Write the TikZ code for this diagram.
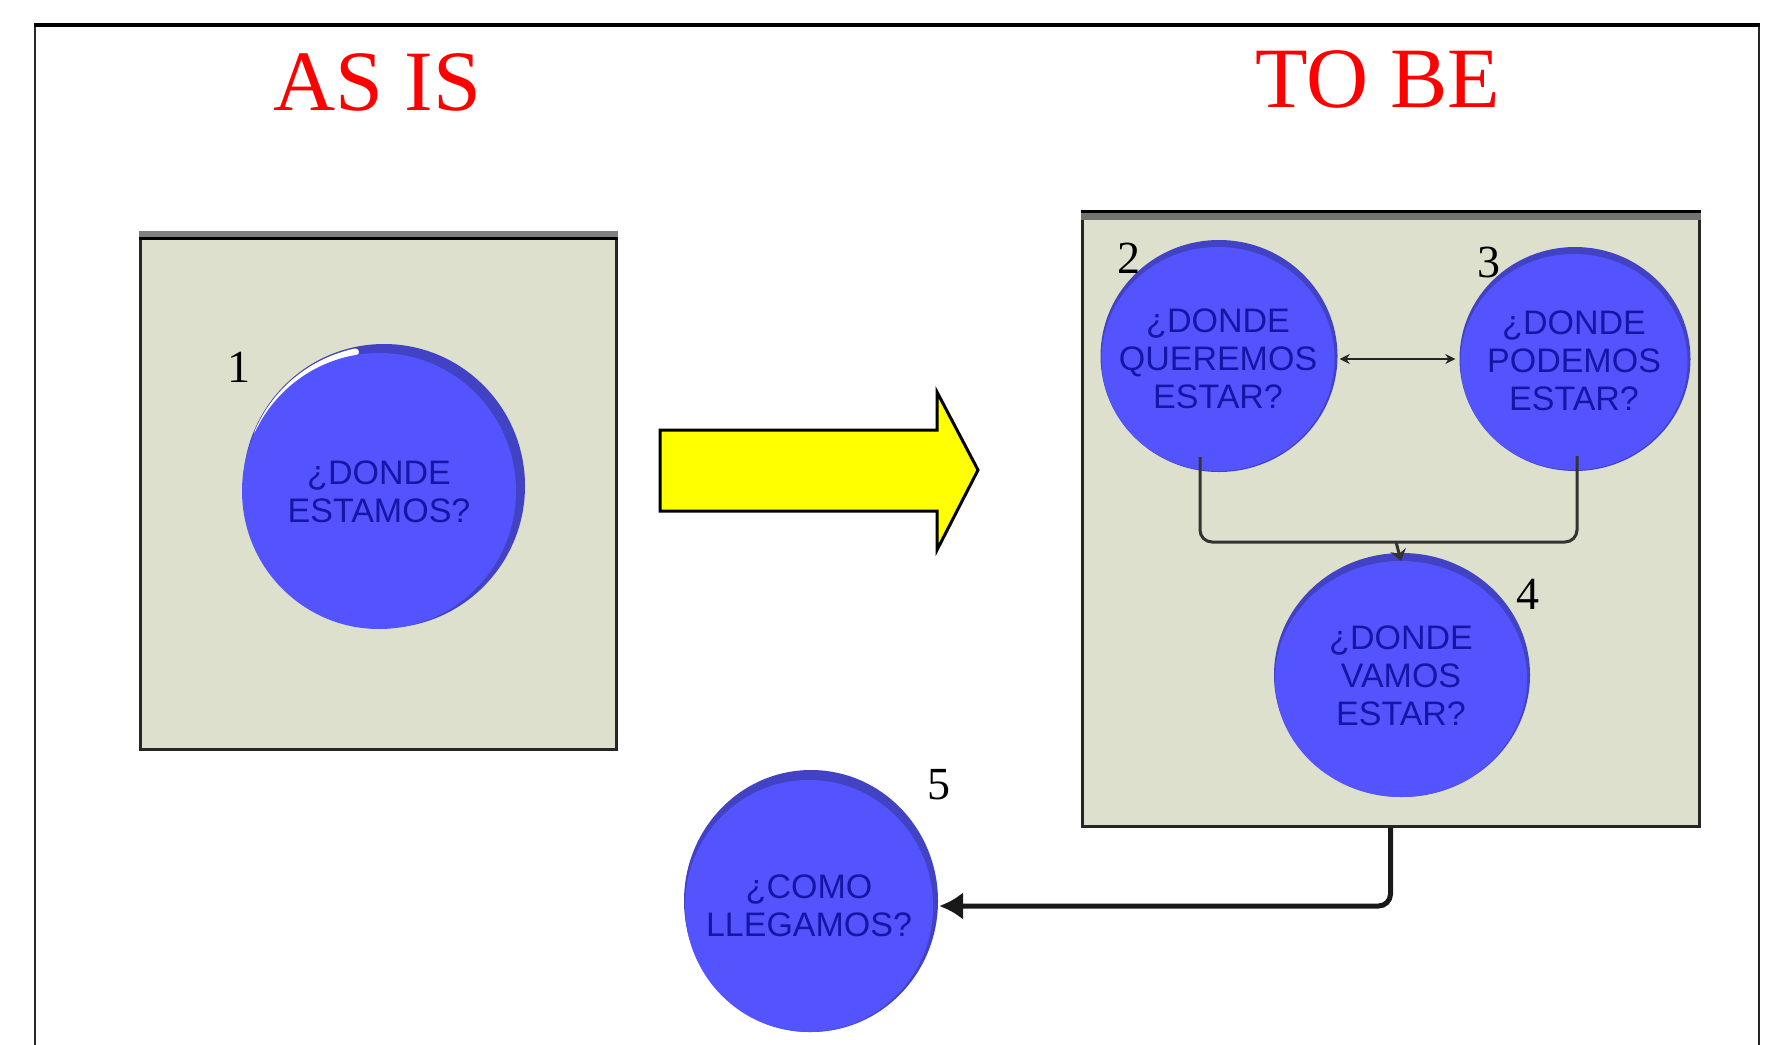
\documentclass[tikz,border=0pt]{standalone}
\usepackage{fontspec}
\setmainfont{Liberation Serif}
\newfontfamily\bubfont{Liberation Sans}
\usetikzlibrary{arrows.meta,calc,shapes.geometric}
\definecolor{panelfill}{RGB}{221,224,204}
\definecolor{bubfill}{RGB}{84,84,255}
\definecolor{bubrim}{RGB}{66,66,196}
\definecolor{bubtext}{RGB}{22,22,165}
\definecolor{titlered}{RGB}{255,0,0}
\definecolor{arrowyellow}{RGB}{255,255,0}
\begin{document}
\begin{tikzpicture}[x=1pt,y=-1pt,
  panel/.style={draw=black!85, line width=3pt, fill=panelfill, inner sep=0pt},
  bub/.style={ellipse, fill=bubfill, inner sep=0pt},
  bubtxt/.style={font=\bubfont\fontsize{34}{38}\selectfont, text=bubtext, align=center, inner sep=0pt},
  rim/.style={ellipse, fill=bubrim, inner sep=0pt},
  num/.style={font=\fontsize{46}{46}\selectfont, text=black, inner sep=0pt},
  title/.style={font=\fontsize{86}{86}\selectfont, text=titlered, inner sep=0pt},
  conn/.style={draw=black!80, line width=3pt, rounded corners=12pt},
]
\useasboundingbox (0,0) rectangle (1771,1044);
\fill[white] (0,0) rectangle (1771,1044);
% outer frame
\draw[line width=2pt, black!85] (35,1060) -- (35,25);
\draw[line width=2pt, black!85] (1759,25) -- (1759,1060);
\draw[line width=3.5pt] (34,25) -- (1760,25);
% titles
\node[title] (asis) at (377,82) {AS IS};
\node[title] (tobe) at (1378,79) {TO BE};
% panels
\node[panel, minimum width=476pt, minimum height=515pt] (box1) at (378,491.5) {};
\fill[black!50] ($(box1.north west)+(0,-1.5)$) rectangle ($(box1.north east)+(0,5)$);
\draw[line width=3pt] ($(box1.north west)+(0,6)$) -- ($(box1.north east)+(0,6)$);
\node[panel, minimum width=617pt, minimum height=613pt] (box2) at (1390.5,519.5) {};
\draw[line width=3pt] ($(box2.north west)+(0,0)$) -- ($(box2.north east)+(0,0)$);
\fill[black!55] ($(box2.north west)+(0,1.5)$) rectangle ($(box2.north east)+(0,8)$);
% yellow arrow
\draw[fill=arrowyellow, line width=3pt, line join=miter] (660,430) -- (937,430) -- (937,392) -- (978,470) -- (937,550) -- (937,511) -- (660,511) -- cycle;
% circle 1
\node[rim, minimum width=282pt, minimum height=284pt] (r1) at (384,486) {};
\draw[white, line width=7pt, line cap=round] (384,486) ++(203:137) arc (203:258:137);
\node[bub, minimum width=274pt, minimum height=276pt] (c1) at (379,491) {};
\node[bubtxt] (t1) at (379,492) {¿DONDE\\ESTAMOS?};
% circle 2
\node[rim, minimum width=237pt, minimum height=232pt] (r2) at (1219,356) {};
\node[bub, minimum width=233pt, minimum height=224pt] (c2) at (1218,359) {};
\node[bubtxt] (t2) at (1218,359) {¿DONDE\\QUEREMOS\\ESTAR?};
% circle 3
\node[rim, minimum width=231pt, minimum height=224pt] (r3) at (1575,359) {};
\node[bub, minimum width=227pt, minimum height=216pt] (c3) at (1574,362) {};
\node[bubtxt] (t3) at (1574,361) {¿DONDE\\PODEMOS\\ESTAR?};
% circle 4
\node[rim, minimum width=256pt, minimum height=244pt] (r4) at (1402,675) {};
\node[bub, minimum width=252pt, minimum height=236pt] (c4) at (1401,679) {};
\node[bubtxt] (t4) at (1401,676) {¿DONDE\\VAMOS\\ESTAR?};
% circle 5
\node[rim, minimum width=254pt, minimum height=262pt] (r5) at (811,901) {};
\node[bub, minimum width=248pt, minimum height=252pt] (c5) at (809,906) {};
\node[bubtxt] (t5) at (809,906) {¿COMO\\LLEGAMOS?};
% numbers
\node[num] (n1) at (239,367) {1};
\node[num] (n2) at (1129,258) {2};
\node[num] (n3) at (1489,262) {3};
\node[num] (n4) at (1528,594) {4};
\node[num] (n5) at (939,785) {5};
% connectors
\draw[line width=2.5pt, black!85, {Stealth[length=10pt,width=10pt]}-{Stealth[length=10pt,width=10pt]}, shorten <=5pt, shorten >=5pt] (c2.east) -- (c3.west |- c2.east);
\coordinate (jn) at (1396,542);
\draw[conn] ($(c2.south)+(-18,-14)$) |- (jn);
\draw[conn] ($(c3.south)+(3,-14)$) |- (jn);
\draw[draw=black!80, line width=3pt, -{Stealth[length=11pt,width=16pt]}] (jn) -- (c4.north);
\draw[black!90, line width=5pt, rounded corners=12pt, -{Latex[length=24pt,width=28pt]}, shorten >=6pt] (box2.south) |- (c5.east);
\end{tikzpicture}
\end{document}
